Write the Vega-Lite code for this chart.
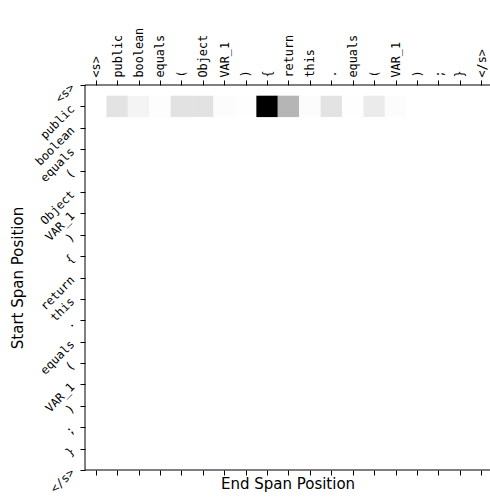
{
  "$schema": "https://vega.github.io/schema/vega-lite/v6.json",
  "autosize": {"type": "none"},
  "padding": {"left": 85, "top": 85, "right": 0, "bottom": 27},
  "width": 405,
  "height": 385,
  "background": "#ffffff",
  "config": {
    "view": {"stroke": null},
    "axis": {
      "domain": false,
      "tickColor": "#000000",
      "labelColor": "#000000",
      "titleColor": "#000000",
      "tickWidth": 1,
      "tickSize": 5,
      "grid": false,
      "labelFont": "DejaVu Sans Mono",
      "labelFontSize": 11.8,
      "titleFont": "DejaVu Sans",
      "titleFontSize": 15,
      "titleFontWeight": "normal",
      "labelFlush": false,
      "labelOverlap": false,
      "labelBound": false
    }
  },
  "data": {
    "values": [
      {"start": 1, "end": 0, "score": 0.0},
      {"start": 1, "end": 1, "score": 0.196},
      {"start": 1, "end": 2, "score": 0.092},
      {"start": 1, "end": 3, "score": 0.015},
      {"start": 1, "end": 4, "score": 0.201},
      {"start": 1, "end": 5, "score": 0.203},
      {"start": 1, "end": 6, "score": 0.022},
      {"start": 1, "end": 7, "score": 0.008},
      {"start": 1, "end": 8, "score": 1.0},
      {"start": 1, "end": 9, "score": 0.4},
      {"start": 1, "end": 10, "score": 0.025},
      {"start": 1, "end": 11, "score": 0.196},
      {"start": 1, "end": 12, "score": 0.012},
      {"start": 1, "end": 13, "score": 0.152},
      {"start": 1, "end": 14, "score": 0.022},
      {"start": 1, "end": 15, "score": 0.0},
      {"start": 1, "end": 16, "score": 0.0},
      {"start": 1, "end": 17, "score": 0.0},
      {"start": 1, "end": 18, "score": 0.0}
    ]
  },
  "layer": [
    {
      "mark": {"type": "rect", "width": 21.45, "height": 21.4, "clip": true},
      "encoding": {
        "x": {
          "field": "end",
          "type": "quantitative",
          "scale": {"domain": [-0.5, 18.407], "nice": false, "zero": false},
          "axis": {
            "orient": "top",
            "values": [0,1,2,3,4,5,6,7,8,9,10,11,12,13,14,15,16,17,18],
            "labelExpr": "['<s>','public','boolean','equals','(','Object','VAR_1',')','{','return','this','.','equals','(','VAR_1',')',';','}','</s>'][datum.value]",
            "labelAngle": -90,
            "labelAlign": "left",
            "labelBaseline": "middle",
            "labelPadding": 3,
            "title": null
          }
        },
        "y": {
          "field": "start",
          "type": "quantitative",
          "scale": {"domain": [0, 18], "nice": false, "zero": false, "reverse": true},
          "axis": {
            "orient": "left",
            "values": [0,1,2,3,4,5,6,7,8,9,10,11,12,13,14,15,16,17,18],
            "labelExpr": "['<s>','public','boolean','equals','(','Object','VAR_1',')','{','return','this','.','equals','(','VAR_1',')',';','}','</s>'][datum.value]",
            "labelAngle": -45,
            "labelAlign": "right",
            "labelBaseline": "middle",
            "labelPadding": 8,
            "title": "Start Span Position",
            "titleAngle": -90,
            "titleX": -68,
            "titleY": 192.5,
            "titleAlign": "center",
            "titleBaseline": "middle"
          }
        },
        "color": {
          "field": "score",
          "type": "quantitative",
          "scale": {
            "domain": [0, 1],
            "range": ["#ffffff", "#f0f0f0", "#d9d9d9", "#bdbdbd", "#969696", "#737373", "#525252", "#252525", "#000000"],
            "interpolate": "rgb"
          },
          "legend": null
        }
      }
    },
    {
      "mark": {"type": "rect", "width": 21.45, "height": 21.4, "opacity": 0, "clip": true},
      "encoding": {
        "x": {
          "field": "end",
          "type": "quantitative",
          "axis": {
            "orient": "bottom",
            "values": [0,1,2,3,4,5,6,7,8,9,10,11,12,13,14,15,16,17,18],
            "labels": false,
            "title": "End Span Position",
            "titleY": 18,
            "titleBaseline": "alphabetic"
          }
        },
        "y": {"field": "start", "type": "quantitative", "axis": null}
      }
    },
    {
      "data": {"values": [{"spine": "top"}]},
      "mark": {"type": "rule", "color": "#000000", "strokeWidth": 1},
      "encoding": {"y": {"datum": 0, "type": "quantitative", "axis": null}}
    },
    {
      "data": {"values": [{"spine": "bottom"}]},
      "mark": {"type": "rule", "color": "#000000", "strokeWidth": 1},
      "encoding": {"y": {"datum": 18, "type": "quantitative", "axis": null}}
    },
    {
      "data": {"values": [{"spine": "left"}]},
      "mark": {"type": "rule", "color": "#000000", "strokeWidth": 1},
      "encoding": {"x": {"datum": -0.5, "type": "quantitative", "axis": null}}
    }
  ],
  "resolve": {"axis": {"x": "independent", "y": "independent"}}
}
